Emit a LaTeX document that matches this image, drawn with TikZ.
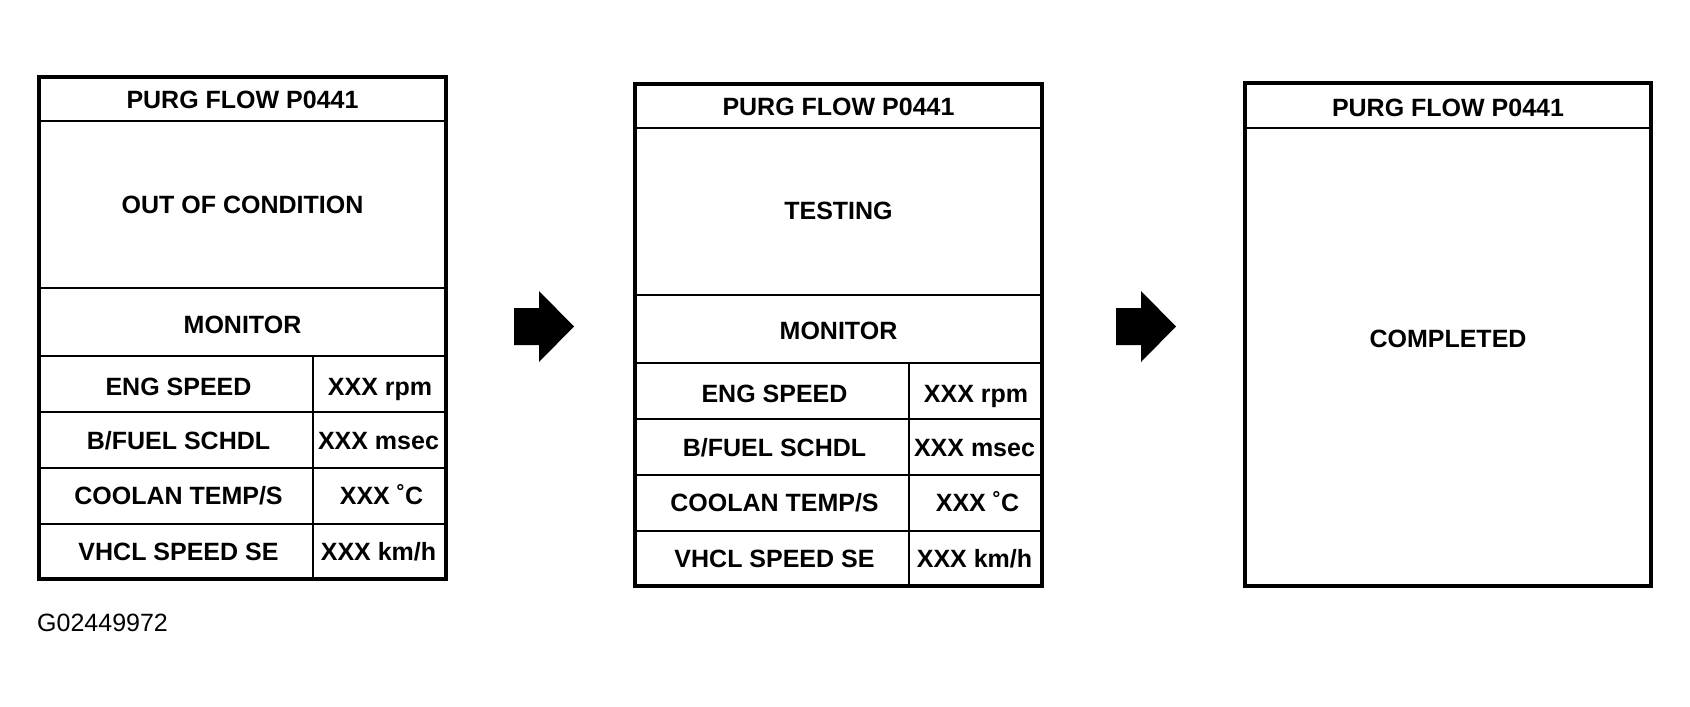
\documentclass[tikz,border=0pt]{standalone}
\usepackage{fontspec}
\setmainfont{Liberation Sans}
\newcommand\datapanel[4]{% #1 name prefix, #2 x shift, #3 y shift, #4 status text
\begin{scope}[shift={(#2,#3)}]
  \draw[rule] (39,121) -- (446,121);
  \draw[rule] (39,288) -- (446,288);
  \draw[rule] (39,356) -- (446,356);
  \draw[rule] (39,412) -- (446,412);
  \draw[rule] (39,468) -- (446,468);
  \draw[rule] (39,524) -- (446,524);
  \draw[rule] (313,356) -- (313,579);
  \draw[frame] (39,77) rectangle (446,579);
  \node[lbl] (#1-title)  at (242.5,108.7) {PURG FLOW P0441};
  \node[lbl] (#1-status) at (242.5,213) {#4};
  \node[lbl] (#1-mon)    at (242.5,333) {MONITOR};
  \node[lbl] (#1-l1) at (178.5,395.3) {ENG SPEED};
  \node[lbl] (#1-v1) at (380,395.3) {XXX rpm};
  \node[lbl] (#1-l2) at (178.5,449.8) {B/FUEL SCHDL};
  \node[lbl] (#1-v2) at (378.5,449.8) {XXX msec};
  \node[lbl] (#1-l3) at (178.5,504.8) {COOLAN TEMP/S};
  \node[lbl] (#1-v3) at (381.5,504.8) {XXX ˚C};
  \node[lbl] (#1-l4) at (178.5,560.2) {VHCL SPEED SE};
  \node[lbl] (#1-v4) at (378.5,560.2) {XXX km/h};
\end{scope}}
\begin{document}
\begin{tikzpicture}[x=1pt,y=-1pt,
  frame/.style={line width=3.8pt},
  rule/.style={line width=1.8pt},
  lbl/.style={anchor=base,inner sep=0pt,font=\fontsize{25}{30}\selectfont\bfseries},
  code/.style={anchor=base west,inner sep=0pt,font=\fontsize{25}{30}\selectfont},
  flowarrow/.style={fill=black,draw=none}]
\useasboundingbox (0,0) rectangle (1690,707);

% left panel
\datapanel{a}{0}{0}{OUT OF CONDITION}
% middle panel
\datapanel{b}{596}{6.8}{TESTING}

% right panel
\draw[rule] (1245,128) -- (1651,128);
\draw[frame] (1245,83) rectangle (1651,586);
\node[lbl] (c-title)  at (1448,116.7) {PURG FLOW P0441};
\node[lbl] (c-status) at (1448,347.5) {COMPLETED};

% arrows
\fill[flowarrow] (514,308) -- (539,308) -- (539,291) -- (574,326.5) -- (539,362) -- (539,345) -- (514,345) -- cycle;
\fill[flowarrow] (1116,308) -- (1141,308) -- (1141,291) -- (1176,326.5) -- (1141,362) -- (1141,345) -- (1116,345) -- cycle;

% figure code
\node[code] (figcode) at (37,631.7) {G02449972};
\end{tikzpicture}
\end{document}
